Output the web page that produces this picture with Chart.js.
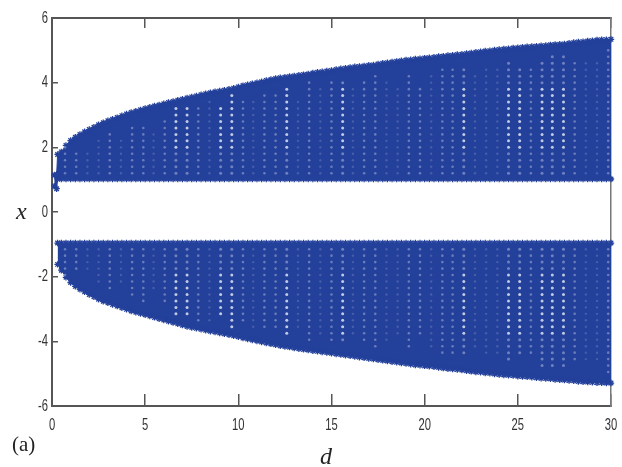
<!DOCTYPE html>
<html>
<head>
<meta charset="utf-8">
<style>
  html, body { margin: 0; padding: 0; background: #fff; }
  canvas { display: block; filter: blur(0.45px); }
</style>
<script src="https://cdn.jsdelivr.net/npm/chart.js@4"></script>
</head>
<body>
<canvas id="bandChart" width="622" height="467"></canvas>
<script>
// d positions of the marks along the two bands
const dValues = [
  0.12,0.25,0.3,0.5,0.75,1,1.25,1.5,1.75,2,2.25,2.5,2.75,3,3.25,3.5,3.75,4,4.25,4.5,4.75,5,
  5.25,5.5,5.75,6,6.25,6.5,6.75,7,7.25,7.5,7.75,8,8.25,8.5,8.75,9,9.25,9.5,9.75,10,
  10.25,10.5,10.75,11,11.25,11.5,11.75,12,12.25,12.5,12.75,13,13.25,13.5,13.75,14,14.25,14.5,14.75,15,
  15.25,15.5,15.75,16,16.25,16.5,16.75,17,17.25,17.5,17.75,18,18.25,18.5,18.75,19,19.25,19.5,19.75,20,
  20.25,20.5,20.75,21,21.25,21.5,21.75,22,22.25,22.5,22.75,23,23.25,23.5,23.75,24,24.25,24.5,24.75,25,
  25.25,25.5,25.75,26,26.25,26.5,26.75,27,27.25,27.5,27.75,28,28.25,28.5,28.75,29,29.25,29.5,29.75,30
];

// outer edge of the upper band
const upperOuter = [
  1.14,1.17,1.78,1.86,2.06,2.21,2.31,2.40,2.48,2.55,2.62,2.70,2.76,2.82,2.87,2.92,2.98,3.03,3.08,3.12,3.16,3.20,
  3.24,3.28,3.31,3.35,3.39,3.42,3.46,3.49,3.53,3.56,3.59,3.63,3.66,3.69,3.72,3.74,3.77,3.80,3.83,3.87,
  3.91,3.94,3.97,4.00,4.03,4.07,4.10,4.13,4.15,4.17,4.19,4.21,4.23,4.25,4.27,4.30,4.32,4.34,4.36,4.38,
  4.41,4.43,4.45,4.47,4.49,4.50,4.52,4.54,4.55,4.58,4.60,4.62,4.64,4.66,4.68,4.70,4.71,4.73,4.74,4.76,
  4.77,4.79,4.81,4.82,4.84,4.85,4.87,4.88,4.90,4.92,4.94,4.96,4.98,4.99,5.01,5.03,5.04,5.05,5.07,5.08,
  5.10,5.11,5.12,5.13,5.14,5.15,5.17,5.18,5.19,5.20,5.22,5.24,5.26,5.27,5.29,5.30,5.32,5.33,5.33,5.34
];

// inner edge of the upper band
const upperInner = [
  0.80,0.72,1.02,1.02,1.02,1.02,1.02,1.02,1.02,1.02,1.02,1.02,1.02,1.02,1.02,1.02,1.02,1.02,1.02,1.02,1.02,1.02,
  1.02,1.02,1.02,1.02,1.02,1.02,1.02,1.02,1.02,1.02,1.02,1.02,1.02,1.02,1.02,1.02,1.02,1.02,1.02,1.02,
  1.02,1.02,1.02,1.02,1.02,1.02,1.02,1.02,1.02,1.02,1.02,1.02,1.02,1.02,1.02,1.02,1.02,1.02,1.02,1.02,
  1.02,1.02,1.02,1.02,1.02,1.02,1.02,1.02,1.02,1.02,1.02,1.02,1.02,1.02,1.02,1.02,1.02,1.02,1.02,1.02,
  1.02,1.02,1.02,1.02,1.02,1.02,1.02,1.02,1.02,1.02,1.02,1.02,1.02,1.02,1.02,1.02,1.02,1.02,1.02,1.02,
  1.02,1.02,1.02,1.02,1.02,1.02,1.02,1.02,1.02,1.02,1.02,1.02,1.02,1.02,1.02,1.02,1.02,1.02,1.02,1.02
];

// outer edge of the lower band (it starts a little later than the upper one)
const lowerOuter = [
  null,null,-1.62,-1.80,-2.02,-2.18,-2.30,-2.39,-2.47,-2.55,-2.62,-2.70,-2.76,-2.81,-2.86,-2.91,-2.96,-3.01,-3.06,-3.10,-3.14,-3.18,
  -3.22,-3.26,-3.30,-3.34,-3.38,-3.42,-3.46,-3.50,-3.54,-3.57,-3.60,-3.63,-3.66,-3.69,-3.71,-3.74,-3.77,-3.80,-3.83,-3.86,
  -3.90,-3.93,-3.96,-3.99,-4.02,-4.05,-4.08,-4.11,-4.14,-4.16,-4.18,-4.21,-4.23,-4.25,-4.27,-4.29,-4.31,-4.33,-4.35,-4.37,
  -4.39,-4.41,-4.43,-4.45,-4.47,-4.49,-4.51,-4.53,-4.55,-4.57,-4.59,-4.61,-4.63,-4.65,-4.67,-4.69,-4.71,-4.73,-4.74,-4.76,
  -4.77,-4.79,-4.81,-4.83,-4.85,-4.86,-4.87,-4.89,-4.91,-4.93,-4.95,-4.96,-4.98,-4.99,-5.01,-5.03,-5.04,-5.05,-5.06,-5.08,
  -5.09,-5.10,-5.11,-5.13,-5.14,-5.15,-5.16,-5.18,-5.19,-5.20,-5.21,-5.22,-5.24,-5.25,-5.26,-5.27,-5.28,-5.28,-5.29,-5.29
];

// inner edge of the lower band
const lowerInner = [
  null,null,-0.96,-0.96,-0.96,-0.96,-0.96,-0.96,-0.96,-0.96,-0.96,-0.96,-0.96,-0.96,-0.96,-0.96,-0.96,-0.96,-0.96,-0.96,-0.96,-0.96,
  -0.96,-0.96,-0.96,-0.96,-0.96,-0.96,-0.96,-0.96,-0.96,-0.96,-0.96,-0.96,-0.96,-0.96,-0.96,-0.96,-0.96,-0.96,-0.96,-0.96,
  -0.96,-0.96,-0.96,-0.96,-0.96,-0.96,-0.96,-0.96,-0.96,-0.96,-0.96,-0.96,-0.96,-0.96,-0.96,-0.96,-0.96,-0.96,-0.96,-0.96,
  -0.96,-0.96,-0.96,-0.96,-0.96,-0.96,-0.96,-0.96,-0.96,-0.96,-0.96,-0.96,-0.96,-0.96,-0.96,-0.96,-0.96,-0.96,-0.96,-0.96,
  -0.96,-0.96,-0.96,-0.96,-0.96,-0.96,-0.96,-0.96,-0.96,-0.96,-0.96,-0.96,-0.96,-0.96,-0.96,-0.96,-0.96,-0.96,-0.96,-0.96,
  -0.96,-0.96,-0.96,-0.96,-0.96,-0.96,-0.96,-0.96,-0.96,-0.96,-0.96,-0.96,-0.96,-0.96,-0.96,-0.96,-0.96,-0.96,-0.96,-0.96
];

// rows of the gaps inside each band
const upperRows = [1.2,1.4,1.6,1.8,2.0,2.2,2.4,2.6,2.8,3.0,3.2,3.4,3.6,3.8,4.0,4.2,4.4,4.6,4.8,5.0];
const lowerRows = [-1.15,-1.35,-1.55,-1.75,-1.95,-2.15,-2.35,-2.55,-2.75,-2.95,-3.15,-3.35,-3.55,-3.75,-3.95,-4.15,-4.35,-4.55,-4.75,-4.95];

// columns of gaps: where they sit in d and how far out from the axis they reach
const brightGapD = [6.65,7.25,9.05,9.65,12.6,15.6,22.1,24.5,25.1,26.3,26.85,27.45];
const brightGapReach = [3.25,3.2,3.25,3.6,3.9,4,4.5,4.7,4.4,4.75,4.85,4.8];
const midGapD = [0.7,1.3,3.1,4.3,4.9,6.05,7.85,10.25,11.4,12,13.8,15,16.75,17.35,19.15,19.75,20.95,21.5,25.7,28.05,29.85];
const midGapReach = [2.1,1.9,2.45,2.7,2.75,2.9,3.35,3.45,3.6,3.6,4,4,4.07,4.3,4.2,3.9,4.5,4.45,4.4,4.65,5];
const faintGapD = [1.9,2.5,3.7,5.45,8.45,10.8,13.2,14.4,16.15,17.95,18.55,20.35,22.7,23.3,23.9,28.65,29.25];
const faintGapReach = [1.8,2.2,2.2,2.5,3.4,3.55,3.55,3.8,3.85,4.07,3.9,4.3,4.3,4.4,4.45,4.65,4.7];

const bandBlue = '#23409b';
const axisGray = '#565656';
const tickText = '#333';

function edgePoints(values) {
  return dValues.map((d, i) => ({ x: d, y: values[i] }));
}

function gapPoints(columns, reach) {
  const points = [];
  columns.forEach((d, i) => {
    upperRows.forEach(r => { if (r <= reach[i]) points.push({ x: d, y: r }); });
    lowerRows.forEach(r => { if (-r <= reach[i]) points.push({ x: d, y: r }); });
  });
  return points;
}

function edgeDataset(label, values, fillTo) {
  return {
    label: label,
    data: edgePoints(values),
    borderColor: bandBlue,
    backgroundColor: bandBlue,
    borderWidth: 1,
    pointStyle: 'star',
    pointRadius: 3.2,
    pointBorderWidth: 1.3,
    pointBorderColor: bandBlue,
    fill: fillTo,
    showLine: true,
    clip: false,
    order: 5
  };
}

function gapDataset(label, columns, reach, color, radius) {
  return {
    label: label,
    data: gapPoints(columns, reach),
    pointStyle: 'circle',
    pointRadius: radius,
    pointBorderWidth: 0,
    pointBackgroundColor: color,
    showLine: false,
    clip: false,
    order: 1
  };
}

// the tick digits in the picture are very narrow, so they are squeezed here;
// the italic axis letters and the panel mark sit at fixed spots of the page
const pageText = {
  id: 'pageText',
  afterDraw(chart) {
    const c = chart.ctx;
    const xs = chart.scales.x;
    const ys = chart.scales.y;
    c.save();
    c.fillStyle = tickText;
    c.font = '17px "Liberation Sans"';
    c.textBaseline = 'middle';
    c.textAlign = 'center';
    xs.ticks.forEach((t, i) => {
      c.save();
      c.translate(xs.getPixelForTick(i), 425);
      c.scale(0.66, 1);
      c.fillText(t.label, 0, 0);
      c.restore();
    });
    c.textAlign = 'right';
    ys.ticks.forEach((t, i) => {
      c.save();
      c.translate(48, ys.getPixelForTick(i));
      c.scale(0.66, 1);
      c.fillText(t.label, 0, 0);
      c.restore();
    });
    c.fillStyle = '#222';
    c.textAlign = 'left';
    c.textBaseline = 'alphabetic';
    c.font = 'italic 24px "Liberation Serif"';
    c.fillText('x', 16, 219);
    c.fillText('d', 320, 464);
    c.font = '21px "Liberation Serif"';
    c.fillText('(a)', 12, 451);
    c.restore();
  }
};

const ctx = document.getElementById('bandChart').getContext('2d');
new Chart(ctx, {
  type: 'scatter',
  data: {
    datasets: [
      edgeDataset('upper outer', upperOuter, '+1'),
      edgeDataset('upper inner', upperInner, false),
      edgeDataset('lower outer', lowerOuter, '+1'),
      edgeDataset('lower inner', lowerInner, false),
      gapDataset('gaps bright', brightGapD, brightGapReach, c => {
        const v = Math.abs(c.parsed.y);
        return v > 1.9 && v < 3.9 ? 'rgba(255,255,255,0.72)' : 'rgba(255,255,255,0.35)';
      }, 1.5),
      gapDataset('gaps mid', midGapD, midGapReach, 'rgba(255,255,255,0.32)', 1.3),
      gapDataset('gaps faint', faintGapD, faintGapReach, 'rgba(255,255,255,0.16)', 1.2)
    ]
  },
  options: {
    responsive: false,
    animation: false,
    layout: { padding: 0 },
    plugins: { legend: { display: false }, tooltip: { enabled: false } },
    scales: {
      x: {
        type: 'linear', position: 'bottom', min: 0, max: 30,
        afterFit: s => { s.height = 61; },
        border: { color: axisGray, width: 2 },
        grid: { drawOnChartArea: false, color: axisGray, lineWidth: 1.5, tickLength: -12 },
        ticks: { stepSize: 5, display: false }
      },
      xTop: {
        type: 'linear', position: 'top', min: 0, max: 30,
        afterFit: s => { s.height = 18; },
        border: { color: axisGray, width: 2 },
        grid: { drawOnChartArea: false, color: axisGray, lineWidth: 1.5, tickLength: -10 },
        ticks: { stepSize: 5, display: false }
      },
      y: {
        type: 'linear', position: 'left', min: -6, max: 6,
        afterFit: s => { s.width = 52; },
        border: { color: axisGray, width: 2 },
        grid: { drawOnChartArea: false, color: axisGray, lineWidth: 1.5, tickLength: -6 },
        ticks: { stepSize: 2, display: false }
      },
      yRight: {
        type: 'linear', position: 'right', min: -6, max: 6,
        afterFit: s => { s.width = 11; },
        border: { color: '#777', width: 1.5 },
        grid: { drawOnChartArea: false, drawTicks: false },
        ticks: { display: false }
      }
    }
  },
  plugins: [pageText]
});
</script>
</body>
</html>
